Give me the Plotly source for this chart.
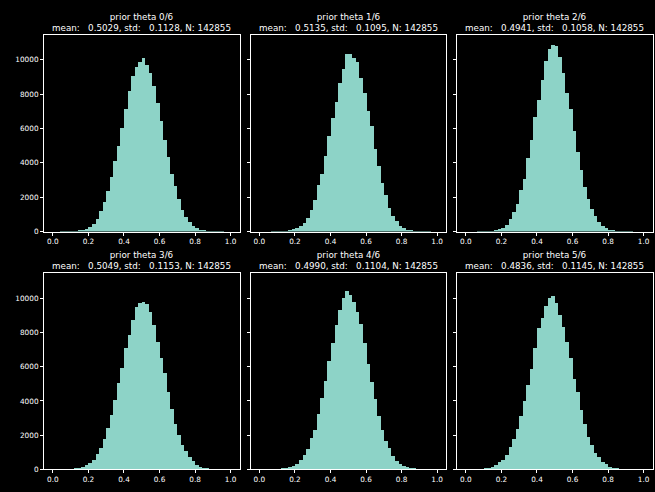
import plotly.graph_objects as go

# ---- data ----
bin_edges = [round(0.02 * k, 2) for k in range(50)]  # lower edges of 50 bins on [0, 1]
bin_width = 0.02

counts_0 = [0, 0, 1, 3, 6, 12, 30, 60, 100, 190, 300, 480, 765, 1220, 1740, 2370, 3170, 4150, 5010, 6040,
            7130, 8220, 9080, 9600, 9890, 10110, 9710, 9250, 8510, 7480, 6440, 5350, 4380, 3400, 2660,
            1910, 1280, 880, 590, 360, 250, 130, 75, 35, 15, 6, 2, 1, 0, 0]
counts_1 = [0, 0, 0, 1, 3, 8, 18, 40, 75, 150, 210, 345, 535, 820, 1280, 1855, 2715, 3400, 4440, 5580,
            6620, 7590, 8680, 9480, 10330, 10330, 10110, 9890, 8970, 8110, 7020, 6160, 4840, 3860, 2830,
            2140, 1400, 940, 650, 360, 250, 130, 75, 35, 15, 6, 2, 1, 0, 0]
counts_2 = [0, 0, 0, 1, 2, 5, 12, 25, 60, 170, 250, 420, 765, 1170, 1625, 2430, 3110, 4320, 5350, 6670,
            7700, 8850, 9940, 10630, 10900, 10820, 10170, 9250, 8110, 7130, 5870, 4670, 3630, 2600, 1910,
            1340, 940, 590, 360, 250, 130, 75, 40, 18, 8, 3, 1, 0, 0, 0]
counts_3 = [0, 0, 0, 2, 5, 15, 40, 60, 115, 230, 365, 535, 880, 1225, 1740, 2430, 3170, 4040, 5010, 5930,
            7070, 7820, 8740, 9480, 9710, 9770, 9660, 9200, 8450, 7420, 6500, 5640, 4490, 3520, 2660,
            2030, 1400, 1050, 710, 480, 250, 135, 75, 40, 15, 6, 2, 1, 0, 0]
counts_4 = [0, 0, 0, 1, 3, 8, 20, 55, 115, 170, 310, 535, 820, 1170, 1800, 2320, 3230, 4150, 5180, 6330,
            7360, 8450, 9310, 10000, 10400, 10170, 9770, 9200, 8510, 7360, 6160, 5070, 4090, 3120, 2320,
            1680, 1225, 765, 480, 310, 190, 115, 55, 25, 10, 4, 1, 0, 0, 0]
counts_5 = [0, 0, 1, 3, 10, 45, 60, 135, 250, 420, 535, 820, 1280, 1740, 2370, 3120, 3980, 4950, 5870, 7070,
            8220, 8850, 9540, 10000, 10110, 9710, 9020, 8330, 7420, 6500, 5290, 4490, 3460, 2660, 1910,
            1400, 940, 710, 420, 310, 135, 55, 50, 15, 6, 2, 1, 0, 0, 0]
all_counts = [counts_0, counts_1, counts_2, counts_3, counts_4, counts_5]

theta_names = ["prior theta 0/6", "prior theta 1/6", "prior theta 2/6",
               "prior theta 3/6", "prior theta 4/6", "prior theta 5/6"]
means = [0.5029, 0.5135, 0.4941, 0.5049, 0.4990, 0.4836]
stds = [0.1128, 0.1095, 0.1058, 0.1153, 0.1104, 0.1145]
n_samples = 142855

x_ticks = [0.0, 0.2, 0.4, 0.6, 0.8, 1.0]
y_ticks = [0, 2000, 4000, 6000, 8000, 10000]

# ---- layout geometry (pixels) ----
W, H = 655, 492
col_px = [(44, 239.5), (250.5, 446), (457, 652.5)]
row_px = [(35, 234), (276, 474.3)]

BAR_COLOR = "#8dd3c7"
FONT = "DejaVu Sans"

fig = go.Figure()
centers = [e + bin_width / 2 for e in bin_edges]

annotations = []
for i in range(6):
    r, c = divmod(i, 3)
    n = i + 1
    xa = "x" if n == 1 else f"x{n}"
    ya = "y" if n == 1 else f"y{n}"
    fig.add_trace(go.Bar(x=centers, y=all_counts[i], width=bin_width,
                         marker=dict(color=BAR_COLOR, line=dict(width=0)),
                         xaxis=xa, yaxis=ya, showlegend=False, hoverinfo="x+y"))
    x0, x1 = col_px[c]
    y0, y1 = row_px[r]
    xdom = [x0 / W, x1 / W]
    ydom = [(H - y1) / H, (H - y0) / H]
    axis_common = dict(showline=True, linecolor="white", linewidth=1, mirror=True,
                       showgrid=False, zeroline=False, ticks="outside", ticklen=3,
                       tickwidth=1, tickcolor="white",
                       tickfont=dict(family=FONT, size=7.3, color="white"))
    fig.layout[f"xaxis{'' if n == 1 else n}"] = dict(
        domain=xdom, anchor=ya, range=[-0.05, 1.05], tickvals=x_ticks,
        ticktext=[f"{v:.1f}" for v in x_ticks], **axis_common)
    fig.layout[f"yaxis{'' if n == 1 else n}"] = dict(
        domain=ydom, anchor=xa, range=[0, 11460], tickvals=y_ticks,
        ticktext=[str(v) for v in y_ticks], showticklabels=(c == 0), **axis_common)
    line2 = f"mean: {means[i]:8.4f}, std: {stds[i]:8.4f}, N: {n_samples}".replace(" ", "\u00a0")
    annotations.append(dict(
        text=theta_names[i].replace(" ", "\u00a0") + "<br>" + line2,
        x=(xdom[0] + xdom[1]) / 2, y=ydom[1], xref="paper", yref="paper",
        xanchor="center", yanchor="bottom", yshift=0, showarrow=False,
        font=dict(family=FONT, size=8.75, color="white")))

fig.update_layout(
    width=W, height=H, margin=dict(l=0, r=0, t=0, b=0),
    paper_bgcolor="black", plot_bgcolor="black",
    bargap=0, annotations=annotations, showlegend=False,
    font=dict(family=FONT, color="white"),
)

fig.write_html(
    "out.html",
    config={"displayModeBar": False, "responsive": False},
    post_script="document.body.style.margin='0';document.body.style.padding='0';"
                "document.body.style.background='black';"
                "document.documentElement.style.overflow='hidden';document.body.style.overflow='hidden';",
)
